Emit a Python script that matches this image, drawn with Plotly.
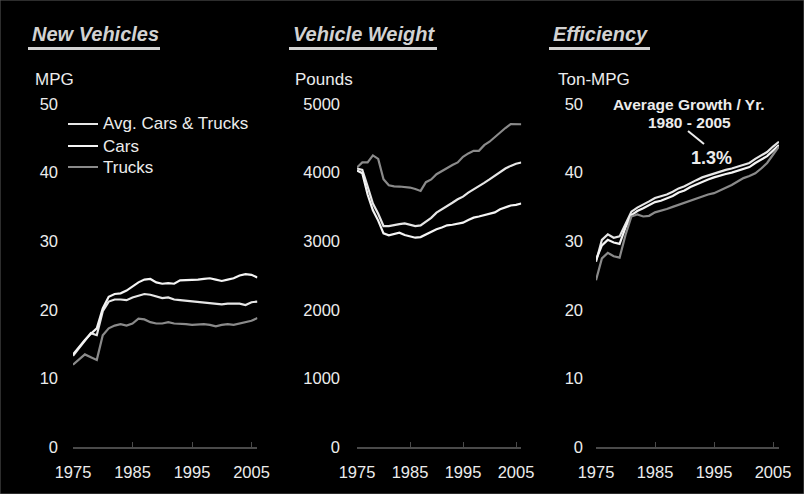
import plotly.graph_objects as go
from plotly.subplots import make_subplots

years = list(range(1975, 2007))

# New Vehicles - MPG
mpg_avg = [13.3, 14.4, 15.4, 16.6, 16.3, 19.8, 21.2, 21.5, 21.5, 21.4, 21.8, 22.1, 22.3, 22.2, 21.9, 21.7,
           21.8, 21.5, 21.4, 21.3, 21.3, 21.2, 21.1, 20.9, 20.8, 20.8, 20.9, 20.9, 20.9, 20.7, 21.1, 21.2]
mpg_cars = [13.5, 14.6, 15.6, 16.5, 17.3, 20.2, 21.9, 22.3, 22.4, 22.8, 23.4, 24.0, 24.4, 24.5, 24.0, 23.8,
            23.9, 23.8, 24.3, 24.3, 24.3, 24.4, 24.5, 24.6, 24.4, 24.2, 24.4, 24.6, 25.0, 25.2, 25.1, 24.7]
mpg_trucks = [12.0, 12.8, 13.5, 13.1, 12.7, 16.3, 17.3, 17.7, 17.9, 17.7, 18.0, 18.7, 18.6, 18.2, 18.0, 18.0,
              18.2, 18.0, 18.0, 17.9, 17.8, 17.9, 17.9, 17.8, 17.6, 17.8, 17.9, 17.8, 18.0, 18.1, 18.4, 18.8]

# Vehicle Weight - Pounds
wt_avg = [4060, 4040, 3800, 3550, 3400, 3221, 3221, 3230, 3250, 3260, 3240, 3221, 3230, 3280, 3340, 3416,
          3460, 3513, 3560, 3611, 3650, 3709, 3760, 3800, 3850, 3900, 3952, 4000, 4060, 4098, 4130, 4148]
wt_cars = [4030, 3990, 3680, 3450, 3300, 3114, 3085, 3100, 3124, 3090, 3075, 3051, 3060, 3099, 3130, 3173,
           3200, 3231, 3240, 3260, 3270, 3310, 3343, 3360, 3380, 3392, 3420, 3465, 3490, 3520, 3530, 3550]
wt_trucks = [4075, 4148, 4150, 4250, 4200, 3904, 3816, 3800, 3797, 3790, 3782, 3760, 3733, 3860, 3900, 3977,
             4020, 4075, 4110, 4148, 4230, 4280, 4317, 4317, 4400, 4450, 4520, 4580, 4650, 4708, 4708, 4705]

# Efficiency - Ton-MPG
eff_avg = [27.0, 30.2, 31.0, 30.5, 30.7, 32.5, 34.3, 34.9, 35.3, 35.8, 36.3, 36.5, 36.8, 37.2, 37.7, 38.0,
           38.5, 38.9, 39.3, 39.6, 39.9, 40.2, 40.4, 40.6, 40.9, 41.1, 41.4, 42.0, 42.5, 43.0, 43.8, 44.5]
eff_cars = [27.3, 29.4, 30.2, 29.8, 29.6, 32.0, 33.8, 34.4, 34.8, 35.2, 35.7, 35.9, 36.2, 36.6, 37.1, 37.4,
            37.9, 38.3, 38.7, 39.0, 39.3, 39.6, 39.8, 40.0, 40.3, 40.5, 40.8, 41.4, 41.9, 42.4, 43.2, 44.0]
eff_trucks = [24.3, 27.5, 28.3, 27.8, 27.6, 30.9, 33.6, 33.9, 33.6, 33.7, 34.2, 34.4, 34.7, 35.0, 35.3, 35.7,
              36.0, 36.2, 36.5, 36.8, 37.0, 37.4, 37.7, 38.2, 38.7, 39.2, 39.5, 39.9, 40.6, 41.4, 42.6, 43.8]

series_names = ["Avg. Cars & Trucks", "Cars", "Trucks"]
panel_titles = ["New Vehicles", "Vehicle Weight", "Efficiency"]
unit_labels = ["MPG", "Pounds", "Ton-MPG"]
x_ticks = [1975, 1985, 1995, 2005]
y_ticks_mpg = [0, 10, 20, 30, 40, 50]
y_ticks_lb = [0, 1000, 2000, 3000, 4000, 5000]

W, H = 804, 494
FONT = "Liberation Sans, Arial, Helvetica, sans-serif"
TXT = "#ececec"
WHITE1 = "#f4f4f4"
WHITE2 = "#e6e6e6"
GRAY = "#8a8a8a"
AXIS = "#4a4a4a"

fig = make_subplots(rows=1, cols=3)

colors = [WHITE2, WHITE1, GRAY]
panels = [(mpg_avg, mpg_cars, mpg_trucks), (wt_avg, wt_cars, wt_trucks), (eff_avg, eff_cars, eff_trucks)]
for c, data in enumerate(panels, start=1):
    for i, (name, ys) in enumerate(zip(series_names, data)):
        fig.add_trace(go.Scatter(x=years, y=ys, mode="lines", name=name,
                                 line=dict(color=colors[i], width=2.2),
                                 showlegend=False), row=1, col=c)

# pixel geometry
px_x = [(73, 5.95), (357, 5.3), (596, 5.9)]
y_standoff = [14, 16, 12]
y_bottom, y_top = 447, 104
ydom = [(H - y_bottom) / H, (H - y_top) / H]
xr = [1975, 2006]

axis_common = dict(showgrid=False, zeroline=False, automargin=False)
for c, (x0, ppy) in enumerate(px_x, start=1):
    x1 = x0 + ppy * (xr[1] - xr[0])
    xa = "xaxis" if c == 1 else f"xaxis{c}"
    ya = "yaxis" if c == 1 else f"yaxis{c}"
    fig.layout[xa].update(domain=[x0 / W, x1 / W], range=xr, tickvals=x_ticks,
                          showline=True, linecolor=AXIS, linewidth=2,
                          ticks="inside", ticklen=5, tickcolor=AXIS, tickwidth=1,
                          tickfont=dict(family=FONT, size=16.5, color=TXT),
                          ticklabelstandoff=9, **axis_common)
    yt = y_ticks_lb if c == 2 else y_ticks_mpg
    fig.layout[ya].update(domain=ydom, range=[yt[0], yt[-1]], tickvals=yt,
                          showline=False, ticks="",
                          tickfont=dict(family=FONT, size=16.5, color=TXT),
                          ticklabelstandoff=y_standoff[c - 1], **axis_common)

annotations = []
shapes = []
title_pos = [(30, 28, 160), (291, 289, 437), (551, 549, 650)]
unit_pos = [33, 293, 556]
for (tx, ux0, ux1), title, ux, unit in zip(title_pos, panel_titles, unit_pos, unit_labels):
    annotations.append(dict(text=f"<b><i>{title}</i></b>", x=tx / W, y=1 - 34 / H,
                            xref="paper", yref="paper", xanchor="left", yanchor="middle",
                            showarrow=False, font=dict(family=FONT, size=20, color="#d2d2d2")))
    shapes.append(dict(type="line", xref="paper", yref="paper", x0=ux0 / W, x1=ux1 / W,
                       y0=1 - 48.5 / H, y1=1 - 48.5 / H, line=dict(color="#d2d2d2", width=3)))
    annotations.append(dict(text=unit, x=ux / W, y=1 - 79 / H, xref="paper", yref="paper",
                            xanchor="left", yanchor="middle", showarrow=False,
                            font=dict(family=FONT, size=17, color=TXT)))

# legend (panel 1)
legend_y = [124, 146, 167]
for name, col, ly in zip(series_names, colors, legend_y):
    shapes.append(dict(type="line", xref="paper", yref="paper", x0=68 / W, x1=98 / W,
                       y0=1 - ly / H, y1=1 - ly / H, line=dict(color=col, width=2)))
    annotations.append(dict(text=name, x=101 / W, y=1 - ly / H, xref="paper", yref="paper",
                            xanchor="left", yanchor="middle", showarrow=False,
                            font=dict(family=FONT, size=17, color=TXT)))

# growth annotation
annotations.append(dict(text="<b>Average Growth / Yr.</b>", x=689 / W, y=1 - 104 / H,
                        xref="paper", yref="paper", xanchor="center", yanchor="middle",
                        showarrow=False, font=dict(family=FONT, size=15.5, color=TXT)))
annotations.append(dict(text="<b>1980 - 2005</b>", x=689 / W, y=1 - 122 / H,
                        xref="paper", yref="paper", xanchor="center", yanchor="middle",
                        showarrow=False, font=dict(family=FONT, size=15.5, color=TXT)))
annotations.append(dict(text="<b>1.3%</b>", x=711 / W, y=1 - 158 / H,
                        xref="paper", yref="paper", xanchor="center", yanchor="middle",
                        showarrow=False, font=dict(family=FONT, size=18, color=TXT)))
shapes.append(dict(type="line", xref="paper", yref="paper", x0=688 / W, y0=1 - 131 / H,
                   x1=704 / W, y1=1 - 144 / H, line=dict(color=TXT, width=2)))
# frame
shapes.append(dict(type="rect", xref="paper", yref="paper", x0=0, y0=0, x1=1, y1=1,
                   line=dict(color="#5a5a5a", width=1)))

fig.update_layout(
    width=W, height=H,
    margin=dict(l=0, r=0, t=0, b=0, pad=0, autoexpand=False),
    paper_bgcolor="#000000", plot_bgcolor="#000000",
    font=dict(family=FONT, color=TXT),
    annotations=annotations, shapes=shapes,
    showlegend=False,
)

fig.write_html("out.html", config={"displayModeBar": False},
               post_script="document.body.style.margin='0';document.body.style.background='#000';")
